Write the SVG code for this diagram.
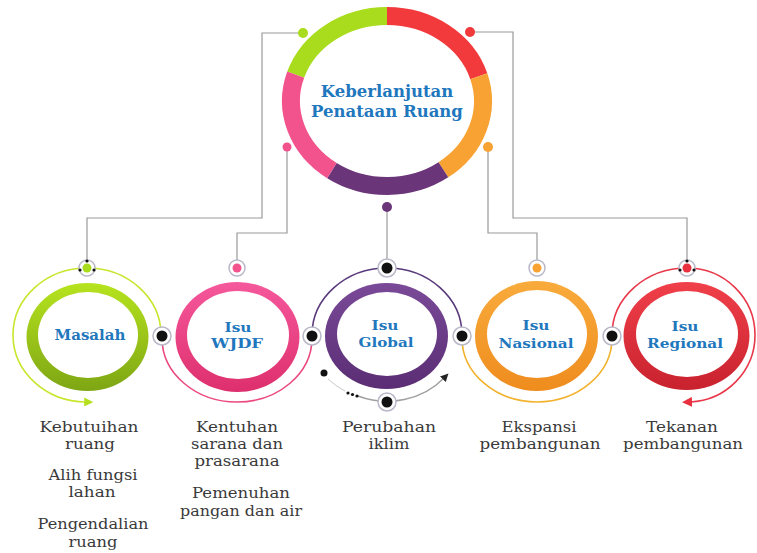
<svg xmlns="http://www.w3.org/2000/svg" width="757" height="553" viewBox="0 0 757 553">
<style>
.lbl{font-family:"DejaVu Serif","Liberation Serif",serif;font-weight:bold;fill:#1f77bd;text-anchor:middle}
.sm{font-size:13.5px}
.txt{font-family:"DejaVu Serif","Liberation Serif",serif;font-size:14.5px;fill:#3a3a3a;text-anchor:middle}
.con{fill:none;stroke:#9a9a9a;stroke-width:1.2}
.seg{fill:none;stroke-width:18}
.halo{fill:#fff;stroke:#b8b8c8;stroke-width:1.5}
.blk{fill:#111}
</style>
<defs>
<linearGradient id="gG" x1="0" y1="0" x2="0" y2="1"><stop offset="0" stop-color="#b6e31e"/><stop offset="1" stop-color="#7ea614"/></linearGradient>
<linearGradient id="gP" x1="0" y1="0" x2="0" y2="1"><stop offset="0" stop-color="#f5589c"/><stop offset="1" stop-color="#de2f6d"/></linearGradient>
<linearGradient id="gU" x1="0" y1="0" x2="0" y2="1"><stop offset="0" stop-color="#7a4a98"/><stop offset="1" stop-color="#5a2d74"/></linearGradient>
<linearGradient id="gO" x1="0" y1="0" x2="0" y2="1"><stop offset="0" stop-color="#f8ab3c"/><stop offset="1" stop-color="#ef8c1e"/></linearGradient>
<linearGradient id="gR" x1="0" y1="0" x2="0" y2="1"><stop offset="0" stop-color="#f0404a"/><stop offset="1" stop-color="#c8222e"/></linearGradient>
<marker id="aG" viewBox="0 0 10 10" refX="2" refY="5" markerWidth="9" markerHeight="9" markerUnits="userSpaceOnUse" orient="auto"><path d="M0,0 L10,5 L0,10 z" fill="#b5e01e"/></marker>
<marker id="aR" viewBox="0 0 10 10" refX="2" refY="5" markerWidth="10" markerHeight="10" markerUnits="userSpaceOnUse" orient="auto"><path d="M0,0 L10,5 L0,10 z" fill="#e8303e"/></marker>
<marker id="aK" viewBox="0 0 10 10" refX="2" refY="5" markerWidth="8" markerHeight="8" markerUnits="userSpaceOnUse" orient="auto"><path d="M0,0 L10,5 L0,10 z" fill="#222"/></marker>
</defs>
<rect width="757" height="553" fill="#fff"/>

<g id="connectors">
<path class="con" d="M303,33 H262 V218 H87 V262"/>
<path class="con" d="M287,147 V233 H237 V262"/>
<path class="con" d="M387,207 V262"/>
<path class="con" d="M488,147 V233 H537 V262"/>
<path class="con" d="M470,32 H513 V218 H687 V262"/>
<path fill="none" stroke="#c8e62e" stroke-width="1.6" d="M87,268 A74 67 0 0 1 161,335"/>
<path fill="none" stroke="#c8e62e" stroke-width="1.6" marker-end="url(#aG)" d="M87,268 A74 67 0 0 0 13,335 A74 67 0 0 0 86,402"/>
<path fill="none" stroke="#ea4a80" stroke-width="1.6" d="M162,338 A75 64 0 0 0 312,338"/>
<path fill="none" stroke="#5a3a7c" stroke-width="1.6" d="M312,335 A75 67 0 0 1 462,335"/>
<path fill="none" stroke="#f2b22e" stroke-width="1.6" d="M462,338 A75 64 0 0 0 612,338"/>
<path fill="none" stroke="#e8384a" stroke-width="1.6" d="M612,335 A75 67 0 0 1 687,268"/>
<path fill="none" stroke="#e8384a" stroke-width="1.6" marker-end="url(#aR)" d="M687,268 A68 67 0 0 1 755,335 A68 67 0 0 1 690,402"/>
<path fill="none" stroke="#a0a0a0" stroke-width="1.4" marker-end="url(#aK)" d="M358,396 A75 67 0 0 0 444,378"/>
<path fill="none" stroke="#c8c8c8" stroke-width="1" d="M328,379 A75 67 0 0 0 345,391"/>
<circle class="blk" cx="324" cy="373" r="3.5"/>
<circle class="blk" cx="348" cy="393" r="1.6"/>
<circle class="blk" cx="352.5" cy="394.5" r="1.6"/>
<circle class="blk" cx="357" cy="396" r="1.6"/>
</g>

<g id="center">
<path class="seg" stroke="#a8dc1c" d="M295.7,74.7 A96 85 0 0 1 387,16"/>
<path class="seg" stroke="#f23a3c" d="M387,16 A96 85 0 0 1 478.8,76.2"/>
<path class="seg" stroke="#f7a232" d="M478.8,76.2 A96 85 0 0 1 443.4,169.8"/>
<path class="seg" stroke="#6b3579" d="M443.4,169.8 A96 85 0 0 1 331.9,170.6"/>
<path class="seg" stroke="#f2538c" d="M331.9,170.6 A96 85 0 0 1 295.7,74.7"/>
<circle cx="303" cy="33" r="5" fill="#a8dc1c"/>
<circle cx="470" cy="32" r="5" fill="#f23a3c"/>
<circle cx="287" cy="147" r="4.5" fill="#f2538c"/>
<circle cx="488" cy="147" r="5" fill="#f7a232"/>
<circle cx="387" cy="207" r="5" fill="#6b3579"/>
<text class="lbl" x="387" y="97" font-size="16.5">Keberlanjutan</text>
<text class="lbl" x="387" y="117" font-size="16.5">Penataan Ruang</text>
</g>

<g id="masalah">
<ellipse cx="87.5" cy="337" rx="61" ry="54" fill="url(#gG)"/>
<ellipse cx="88" cy="335" rx="50" ry="43" fill="#fff"/>
<circle class="halo" cx="87" cy="268" r="8"/>
<circle cx="87" cy="268" r="4.5" fill="#a8dc1c"/>
<circle class="blk" cx="87" cy="261" r="1.6"/><circle class="blk" cx="80" cy="270" r="1.6"/><circle class="blk" cx="94" cy="270" r="1.6"/>
<text class="lbl" x="90" y="340" font-size="15">Masalah</text>
<text class="txt" x="89" y="432" textLength="99" lengthAdjust="spacingAndGlyphs">Kebutuihan</text>
<text class="txt" x="90" y="449" textLength="50" lengthAdjust="spacingAndGlyphs">ruang</text>
<text class="txt" x="93" y="480" textLength="89" lengthAdjust="spacingAndGlyphs">Alih fungsi</text>
<text class="txt" x="92" y="497" textLength="47" lengthAdjust="spacingAndGlyphs">lahan</text>
<text class="txt" x="93" y="529" textLength="111" lengthAdjust="spacingAndGlyphs">Pengendalian</text>
<text class="txt" x="93" y="547" textLength="49" lengthAdjust="spacingAndGlyphs">ruang</text>
</g>

<g id="wjdf">
<ellipse cx="237.5" cy="337" rx="62" ry="55" fill="url(#gP)"/>
<ellipse cx="238" cy="335" rx="51" ry="44" fill="#fff"/>
<circle class="halo" cx="237" cy="268" r="8"/>
<circle cx="237" cy="268" r="4.5" fill="#f2538c"/>
<text class="lbl sm" x="238" y="332" textLength="27" lengthAdjust="spacingAndGlyphs">Isu</text>
<text class="lbl sm" x="237" y="348" textLength="52" lengthAdjust="spacingAndGlyphs">WJDF</text>
<text class="txt" x="237" y="432" textLength="82" lengthAdjust="spacingAndGlyphs">Kentuhan</text>
<text class="txt" x="237" y="449" textLength="92" lengthAdjust="spacingAndGlyphs">sarana dan</text>
<text class="txt" x="237" y="466" textLength="85" lengthAdjust="spacingAndGlyphs">prasarana</text>
<text class="txt" x="241" y="498" textLength="98" lengthAdjust="spacingAndGlyphs">Pemenuhan</text>
<text class="txt" x="241" y="516" textLength="122" lengthAdjust="spacingAndGlyphs">pangan dan air</text>
</g>

<g id="global">
<ellipse cx="386.5" cy="336" rx="61.5" ry="53" fill="url(#gU)"/>
<ellipse cx="387" cy="334" rx="50" ry="42" fill="#fff"/>
<text class="lbl sm" x="385" y="330" textLength="27" lengthAdjust="spacingAndGlyphs">Isu</text>
<text class="lbl sm" x="386" y="347" textLength="55" lengthAdjust="spacingAndGlyphs">Global</text>
<text class="txt" x="389" y="432" textLength="94" lengthAdjust="spacingAndGlyphs">Perubahan</text>
<text class="txt" x="389" y="449" textLength="41" lengthAdjust="spacingAndGlyphs">iklim</text>
</g>

<g id="nasional">
<ellipse cx="536.5" cy="336" rx="61.5" ry="55" fill="url(#gO)"/>
<ellipse cx="537" cy="334" rx="50" ry="44" fill="#fff"/>
<circle class="halo" cx="537" cy="268" r="8"/>
<circle cx="537" cy="268" r="4.5" fill="#f7a232"/>
<text class="lbl sm" x="536" y="330" textLength="27" lengthAdjust="spacingAndGlyphs">Isu</text>
<text class="lbl sm" x="536" y="348" textLength="75" lengthAdjust="spacingAndGlyphs">Nasional</text>
<text class="txt" x="539" y="432" textLength="75" lengthAdjust="spacingAndGlyphs">Ekspansi</text>
<text class="txt" x="540" y="449" textLength="121" lengthAdjust="spacingAndGlyphs">pembangunan</text>
</g>

<g id="regional">
<ellipse cx="686.5" cy="336" rx="63" ry="54" fill="url(#gR)"/>
<ellipse cx="687" cy="334" rx="51" ry="43" fill="#fff"/>
<circle class="halo" cx="687" cy="268" r="8"/>
<circle cx="687" cy="268" r="4.5" fill="#e8303e"/>
<circle class="blk" cx="687" cy="261" r="1.6"/><circle class="blk" cx="680" cy="270" r="1.6"/><circle class="blk" cx="694" cy="270" r="1.6"/>
<text class="lbl sm" x="685" y="331" textLength="27" lengthAdjust="spacingAndGlyphs">Isu</text>
<text class="lbl sm" x="685" y="348" textLength="76" lengthAdjust="spacingAndGlyphs">Regional</text>
<text class="txt" x="682" y="432" textLength="72" lengthAdjust="spacingAndGlyphs">Tekanan</text>
<text class="txt" x="683" y="449" textLength="120" lengthAdjust="spacingAndGlyphs">pembangunan</text>
</g>

<g id="joints">
<circle class="halo" cx="162" cy="336" r="9"/><circle class="blk" cx="162" cy="336" r="5.5"/>
<circle class="halo" cx="312" cy="336" r="9"/><circle class="blk" cx="312" cy="336" r="5.5"/>
<circle class="halo" cx="462" cy="336" r="9"/><circle class="blk" cx="462" cy="336" r="5.5"/>
<circle class="halo" cx="612" cy="336" r="9"/><circle class="blk" cx="612" cy="336" r="5.5"/>
<circle class="halo" cx="387" cy="268" r="9"/><circle class="blk" cx="387" cy="268" r="5.5"/>
<circle class="halo" cx="387" cy="402" r="9"/><circle class="blk" cx="387" cy="402" r="5.5"/>
</g>
</svg>
